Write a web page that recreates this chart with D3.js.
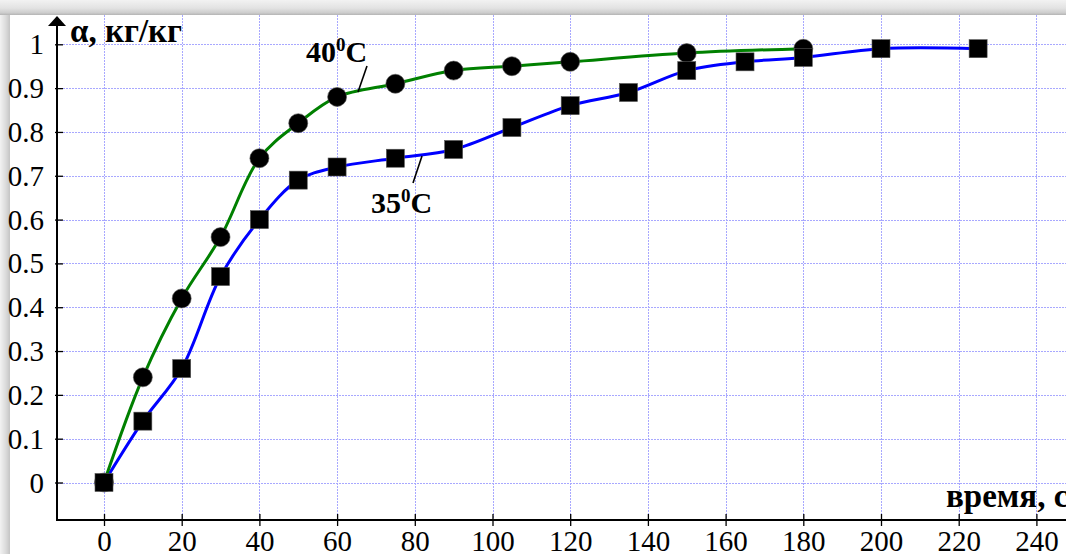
<!DOCTYPE html>
<html><head><meta charset="utf-8">
<script src="https://cdn.jsdelivr.net/npm/d3@7"></script>
<style>html,body{margin:0;padding:0;background:#fff;overflow:hidden}
svg text{font-family:"Liberation Serif","Times New Roman",Tinos,"DejaVu Serif",serif}</style>
</head><body>
<svg id="c" width="1066" height="554"></svg>
<script>
// ---- data ----
const time40 = [0, 10, 20, 30, 40, 50, 60, 75, 90, 105, 120, 150, 180];
const alpha40 = [0, 0.24, 0.42, 0.56, 0.74, 0.82, 0.88, 0.91, 0.94, 0.95, 0.96, 0.98, 0.99];
const time35 = [0, 10, 20, 30, 40, 50, 60, 75, 90, 105, 120, 135, 150, 165, 180, 200, 225];
const alpha35 = [0, 0.14, 0.26, 0.47, 0.60, 0.69, 0.72, 0.74, 0.76, 0.81, 0.86, 0.89, 0.94, 0.96, 0.97, 0.99, 0.99];
const xTicks = [0, 20, 40, 60, 80, 100, 120, 140, 160, 180, 200, 220, 240];
const yTicks = [0, 0.1, 0.2, 0.3, 0.4, 0.5, 0.6, 0.7, 0.8, 0.9, 1];
const yTitle = "α, кг/кг";
const xTitle = "время, с";
const label40 = ["40", "0", "C"];
const label35 = ["35", "0", "C"];

// ---- layout ----
const W = 1066, H = 554;
const svg = d3.select("#c");
const x = d3.scaleLinear().domain([0, 240]).range([104, 1036.4]);
const y = d3.scaleLinear().domain([0, 1]).range([482.5, 44.3]);
const axisX = 57, axisY = 520, topY = 15;

// frame shadow
const defs = svg.append("defs");
const gT = defs.append("linearGradient").attr("id", "gt").attr("x1", 0).attr("y1", 0).attr("x2", 0).attr("y2", 1);
gT.append("stop").attr("offset", "0%").attr("stop-color", "#f2f2f2");
gT.append("stop").attr("offset", "55%").attr("stop-color", "#e2e2e2");
gT.append("stop").attr("offset", "85%").attr("stop-color", "#cdcdcd");
gT.append("stop").attr("offset", "100%").attr("stop-color", "#b4b4b4");
const gL = defs.append("linearGradient").attr("id", "gl").attr("x1", 0).attr("y1", 0).attr("x2", 1).attr("y2", 0);
gL.append("stop").attr("offset", "0%").attr("stop-color", "#f2f2f2");
gL.append("stop").attr("offset", "60%").attr("stop-color", "#dadada");
gL.append("stop").attr("offset", "100%").attr("stop-color", "#c4c4c4");
svg.append("rect").attr("x", 0).attr("y", 0).attr("width", W).attr("height", H).attr("fill", "#fff");
svg.append("rect").attr("x", 0).attr("y", 0).attr("width", 10).attr("height", H).attr("fill", "url(#gl)");
svg.append("rect").attr("x", 0).attr("y", 0).attr("width", W).attr("height", topY).attr("fill", "url(#gt)");

// grid
const grid = svg.append("g").attr("stroke", "#a8a8ff").attr("stroke-width", 1).attr("stroke-dasharray", "2,1");
grid.selectAll(".vg").data(xTicks).join("line")
  .attr("x1", d => Math.round(x(d)) + 0.5).attr("x2", d => Math.round(x(d)) + 0.5)
  .attr("y1", topY).attr("y2", axisY);
grid.selectAll(".hg").data(yTicks).join("line")
  .attr("x1", axisX).attr("x2", W)
  .attr("y1", d => Math.round(y(d)) + 0.5).attr("y2", d => Math.round(y(d)) + 0.5);

// axes
const yAxis = d3.axisLeft(y).tickValues(yTicks).tickSize(-8).tickPadding(11)
  .tickFormat(d => d3.format("~g")(d));
const gy = svg.append("g").attr("transform", `translate(${axisX - 2},0)`).call(yAxis);
gy.attr("font-family", null);
gy.select(".domain").remove();
gy.selectAll(".tick line").attr("stroke", "#000").attr("stroke-width", 1.3);
gy.selectAll(".tick text").attr("font-size", 29).attr("fill", "#000").attr("dy", "0.33em");

const xAxis = d3.axisBottom(x).tickValues(xTicks).tickSize(12).tickPadding(4);
const gx = svg.append("g").attr("transform", `translate(0,${axisY - 6})`).call(xAxis);
gx.attr("font-family", null);
gx.select(".domain").remove();
gx.selectAll(".tick line").attr("stroke", "#000").attr("stroke-width", 1.3);
gx.selectAll(".tick text").attr("font-size", 29).attr("fill", "#000");

svg.append("line").attr("x1", axisX).attr("x2", W).attr("y1", axisY).attr("y2", axisY)
  .attr("stroke", "#000").attr("stroke-width", 2);
svg.append("line").attr("x1", axisX).attr("x2", axisX).attr("y1", axisY + 1).attr("y2", 24)
  .attr("stroke", "#000").attr("stroke-width", 2);
svg.append("path").attr("d", `M${axisX},16 L${axisX - 9},26 L${axisX + 9},26 Z`).attr("fill", "#000");

// titles
svg.append("text").attr("x", 70).attr("y", 42).attr("font-weight", "bold")
  .attr("font-size", 33).text(yTitle);
svg.append("text").attr("x", 946).attr("y", 507).attr("font-weight", "bold")
  .attr("font-size", 33).text(xTitle);

// lines
const pts40 = time40.map((t, i) => [t, alpha40[i]]);
const pts35 = time35.map((t, i) => [t, alpha35[i]]);
const line = d3.line().x(d => x(d[0])).y(d => y(d[1])).curve(d3.curveCatmullRom.alpha(0.5));
svg.append("path").attr("d", line(pts35)).attr("fill", "none").attr("stroke", "#0000ff").attr("stroke-width", 3);
svg.append("path").attr("d", line(pts40)).attr("fill", "none").attr("stroke", "#008000").attr("stroke-width", 3);

// markers
svg.selectAll(".c40").data(pts40).join("circle")
  .attr("cx", d => x(d[0])).attr("cy", d => y(d[1])).attr("r", 9.5)
  .attr("fill", "#000").attr("stroke", "#555").attr("stroke-width", 0.6);
const s = 18;
svg.selectAll(".s35").data(pts35).join("rect")
  .attr("x", d => x(d[0]) - s / 2).attr("y", d => y(d[1]) - s / 2).attr("width", s).attr("height", s)
  .attr("fill", "#000").attr("stroke", "#555").attr("stroke-width", 0.6);

// series labels with leader lines
function seriesLabel(parts, tx, ty, lx1, ly1, lx2, ly2) {
  const t = svg.append("text").attr("x", tx).attr("y", ty)
    .attr("font-weight", "bold").attr("font-size", 30);
  t.append("tspan").text(parts[0]);
  t.append("tspan").attr("font-size", 19).attr("dy", -11).text(parts[1]);
  t.append("tspan").attr("dy", 11).text(parts[2]);
  svg.append("line").attr("x1", lx1).attr("y1", ly1).attr("x2", lx2).attr("y2", ly2)
    .attr("stroke", "#000").attr("stroke-width", 1.6);
}
seriesLabel(label40, 306, 62, 367, 66, 358, 92);
seriesLabel(label35, 371, 213, 422, 156, 413, 183);
</script>
</body></html>
